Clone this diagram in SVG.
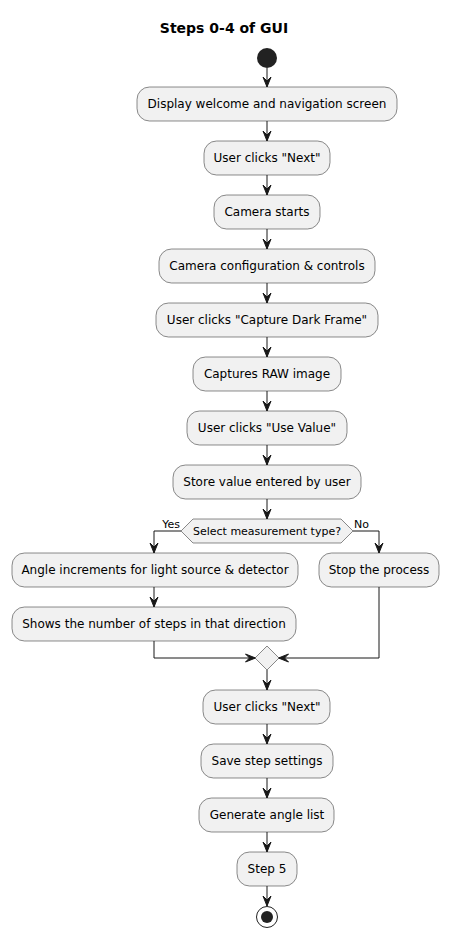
<svg xmlns="http://www.w3.org/2000/svg" width="449" height="938" viewBox="0 0 449 938">
<style>
.box{fill:#F1F1F1;stroke:#181818;stroke-width:0.5}
.t{font-family:"DejaVu Sans",sans-serif;font-size:12px;fill:#000;text-anchor:middle}
.s{font-family:"DejaVu Sans",sans-serif;font-size:11px;fill:#000}
.c{fill:none;stroke:#181818;stroke-width:1;marker-end:url(#ah)}
</style>
<defs>
<marker id="ah" markerUnits="userSpaceOnUse" viewBox="-11 -5 12 10" refX="0" refY="0" markerWidth="12" markerHeight="10" orient="auto">
<path d="M-10,-4 L0,0 L-10,4 L-6,0 Z" fill="#181818" stroke="#181818" stroke-width="1"/>
</marker>
</defs>
<rect width="449" height="938" fill="#FFFFFF"/>
<text x="224" y="33" font-family="DejaVu Sans,sans-serif" font-size="14" font-weight="bold" text-anchor="middle">Steps 0-4 of GUI</text>
<g id="connectors">
<path class="c" d="M267,68 V87"/>
<path class="c" d="M267,121 V141"/>
<path class="c" d="M267,175 V195"/>
<path class="c" d="M267,229 V249"/>
<path class="c" d="M267,283 V303"/>
<path class="c" d="M267,337 V357"/>
<path class="c" d="M267,391 V411"/>
<path class="c" d="M267,445 V465"/>
<path class="c" d="M267,499 V519"/>
<path class="c" d="M181,531 H154 V553"/>
<path class="c" d="M353,531 H379 V553"/>
<path class="c" d="M154,587 V607"/>
<path class="c" d="M154,641 V658 H255.5"/>
<path class="c" d="M379,587 V658 H278.5"/>
<path class="c" d="M267,670 V690"/>
<path class="c" d="M267,724 V744"/>
<path class="c" d="M267,778 V798"/>
<path class="c" d="M267,832 V852"/>
<path class="c" d="M267,886 V906"/>
<text class="s" x="180" y="528" text-anchor="end">Yes</text>
<text class="s" x="354" y="528">No</text>
</g>
<g id="start"><circle cx="267" cy="58" r="10" fill="#222222"/></g>
<g id="n1"><rect class="box" x="137" y="87" width="260" height="34" rx="12.5"/><text class="t" x="267" y="108">Display welcome and navigation screen</text></g>
<g id="n2"><rect class="box" x="204" y="141" width="126" height="34" rx="12.5"/><text class="t" x="267" y="162">User clicks "Next"</text></g>
<g id="n3"><rect class="box" x="214" y="195" width="106" height="34" rx="12.5"/><text class="t" x="267" y="216">Camera starts</text></g>
<g id="n4"><rect class="box" x="159" y="249" width="216" height="34" rx="12.5"/><text class="t" x="267" y="270">Camera configuration &amp; controls</text></g>
<g id="n5"><rect class="box" x="156" y="303" width="222" height="34" rx="12.5"/><text class="t" x="267" y="324">User clicks "Capture Dark Frame"</text></g>
<g id="n6"><rect class="box" x="193" y="357" width="148" height="34" rx="12.5"/><text class="t" x="267" y="378">Captures RAW image</text></g>
<g id="n7"><rect class="box" x="187" y="411" width="160" height="34" rx="12.5"/><text class="t" x="267" y="432">User clicks "Use Value"</text></g>
<g id="n8"><rect class="box" x="173" y="465" width="188" height="34" rx="12.5"/><text class="t" x="267" y="486">Store value entered by user</text></g>
<g id="d1"><polygon class="box" points="181,531 193,519 341,519 353,531 341,543 193,543"/><text class="s" x="267" y="535" text-anchor="middle">Select measurement type?</text></g>
<g id="n9"><rect class="box" x="12" y="553" width="286" height="34" rx="12.5"/><text class="t" x="155" y="574">Angle increments for light source &amp; detector</text></g>
<g id="n10"><rect class="box" x="12" y="607" width="284" height="34" rx="12.5"/><text class="t" x="154" y="628">Shows the number of steps in that direction</text></g>
<g id="n11"><rect class="box" x="319" y="553" width="120" height="34" rx="12.5"/><text class="t" x="379" y="574">Stop the process</text></g>
<g id="merge"><polygon class="box" points="267,646 279,658 267,670 255,658"/></g>
<g id="n12"><rect class="box" x="203" y="690" width="127" height="34" rx="12.5"/><text class="t" x="267" y="711">User clicks "Next"</text></g>
<g id="n13"><rect class="box" x="201" y="744" width="132" height="34" rx="12.5"/><text class="t" x="267" y="765">Save step settings</text></g>
<g id="n14"><rect class="box" x="199" y="798" width="135" height="34" rx="12.5"/><text class="t" x="267" y="819">Generate angle list</text></g>
<g id="n15"><rect class="box" x="237" y="852" width="60" height="34" rx="12.5"/><text class="t" x="267" y="873">Step 5</text></g>
<g id="end"><circle cx="267" cy="917" r="10.5" fill="none" stroke="#222222" stroke-width="1"/><circle cx="267" cy="917" r="6" fill="#222222"/></g>
</svg>
